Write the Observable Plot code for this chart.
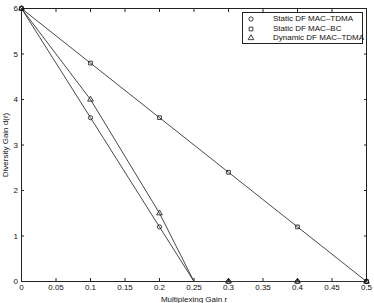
<!DOCTYPE html>
<html>
<head>
<meta charset="utf-8">
<script src="https://cdn.jsdelivr.net/npm/d3@7"></script>
<script src="https://cdn.jsdelivr.net/npm/@observablehq/plot@0.6"></script>
<style>
  html, body { margin: 0; padding: 0; background: #fff; }
  #wrap { position: relative; width: 374px; height: 303px; }
  #legend { position: absolute; left: 242px; top: 12px; width: 119px; height: 30px; border: 1px solid #222; background: #fff;
            font: 8px "Liberation Sans", Arial, sans-serif; color: #111; }
  .row { position: absolute; left: 0; height: 10px; line-height: 10px; }
  .row svg { position: absolute; left: 3px; top: 0; }
  .row span { position: absolute; left: 30px; white-space: nowrap; }
</style>
</head>
<body>
<div id="wrap"></div>
<script>
// ---- data ----
const xTicks = [0, 0.05, 0.1, 0.15, 0.2, 0.25, 0.3, 0.35, 0.4, 0.45, 0.5];
const yTicks = [0, 1, 2, 3, 4, 5, 6];

const seriesNames = ["Static DF MAC\u2013TDMA", "Static DF MAC\u2013BC", "Dynamic DF MAC\u2013TDMA"];
const seriesSymbols = ["circle", "square", "triangle"];

const tdmaR    = [0, 0.1, 0.2, 0.25, 0.3, 0.4, 0.5];
const tdmaD    = [6, 3.6, 1.2, 0,    0,   0,   0];
const tdmaMark = [1, 1,   1,   0,    1,   1,   1];

const bcR    = [0, 0.1, 0.2, 0.3, 0.4, 0.5];
const bcD    = [6, 4.8, 3.6, 2.4, 1.2, 0];
const bcMark = [1, 1,   1,   1,   1,   1];

const dynR    = [0, 0.1, 0.2, 0.25, 0.3, 0.4, 0.5];
const dynD    = [6, 4.0, 1.5, 0,    0,   0,   0];
const dynMark = [1, 1,   1,   0,    1,   1,   1];

const raw = [[tdmaR, tdmaD, tdmaMark], [bcR, bcD, bcMark], [dynR, dynD, dynMark]];
const table = raw.flatMap(([rs, ds, ms], i) =>
  rs.map((r, j) => ({series: seriesNames[i], symbol: seriesSymbols[i], r, d: ds[j], mark: ms[j]})));

const font = '"Liberation Sans", Arial, sans-serif';
const ink = "#222";

const chart = Plot.plot({
  width: 374,
  height: 303,
  marginLeft: 21,
  marginRight: 8,
  marginTop: 8,
  marginBottom: 22,
  style: {fontFamily: font, fontSize: "8px", color: "#111", background: "#fff"},
  x: {domain: [0, 0.5]},
  y: {domain: [0, 6]},
  marks: [
    Plot.frame({stroke: ink, strokeWidth: 1}),
    Plot.axisX({anchor: "bottom", ticks: xTicks, tickSize: -3, tickPadding: 6, tickFormat: d3.format("~g"),
                label: "Multiplexing Gain r", labelAnchor: "center", labelArrow: false, labelOffset: 20, stroke: ink}),
    Plot.axisX({anchor: "top", ticks: xTicks, tickSize: -3, tickFormat: () => "", label: null, stroke: ink}),
    Plot.axisY({anchor: "left", ticks: yTicks, tickSize: -3, tickPadding: 6.5, tickFormat: d3.format("d"),
                label: "Diversity Gain d(r)", labelAnchor: "center", labelArrow: false, labelOffset: 19, stroke: ink}),
    Plot.axisY({anchor: "right", ticks: yTicks, tickSize: -3, tickFormat: () => "", label: null, stroke: ink}),
    Plot.line(table, {x: "r", y: "d", z: "series", stroke: "#333", strokeWidth: 0.9}),
    Plot.dot(table.filter(d => d.mark), {x: "r", y: "d", symbol: "symbol", r: 2.1, stroke: "#111", strokeWidth: 0.8, fill: "none"})
  ]
});

const wrap = document.getElementById("wrap");
wrap.appendChild(chart);

// legend
const legend = document.createElement("div");
legend.id = "legend";
const symScale = {circle: d3.symbolCircle, square: d3.symbolSquare, triangle: d3.symbolTriangle};
seriesNames.forEach((name, i) => {
  const row = document.createElement("div");
  row.className = "row";
  row.style.top = (1 + i * 9.5) + "px";
  const path = d3.symbol(symScale[seriesSymbols[i]], 14)();
  row.innerHTML = `<svg width="10" height="10"><path d="${path}" transform="translate(5,5)" fill="none" stroke="#111" stroke-width="0.8"/></svg><span>${name}</span>`;
  legend.appendChild(row);
});
wrap.appendChild(legend);
</script>
</body>
</html>
